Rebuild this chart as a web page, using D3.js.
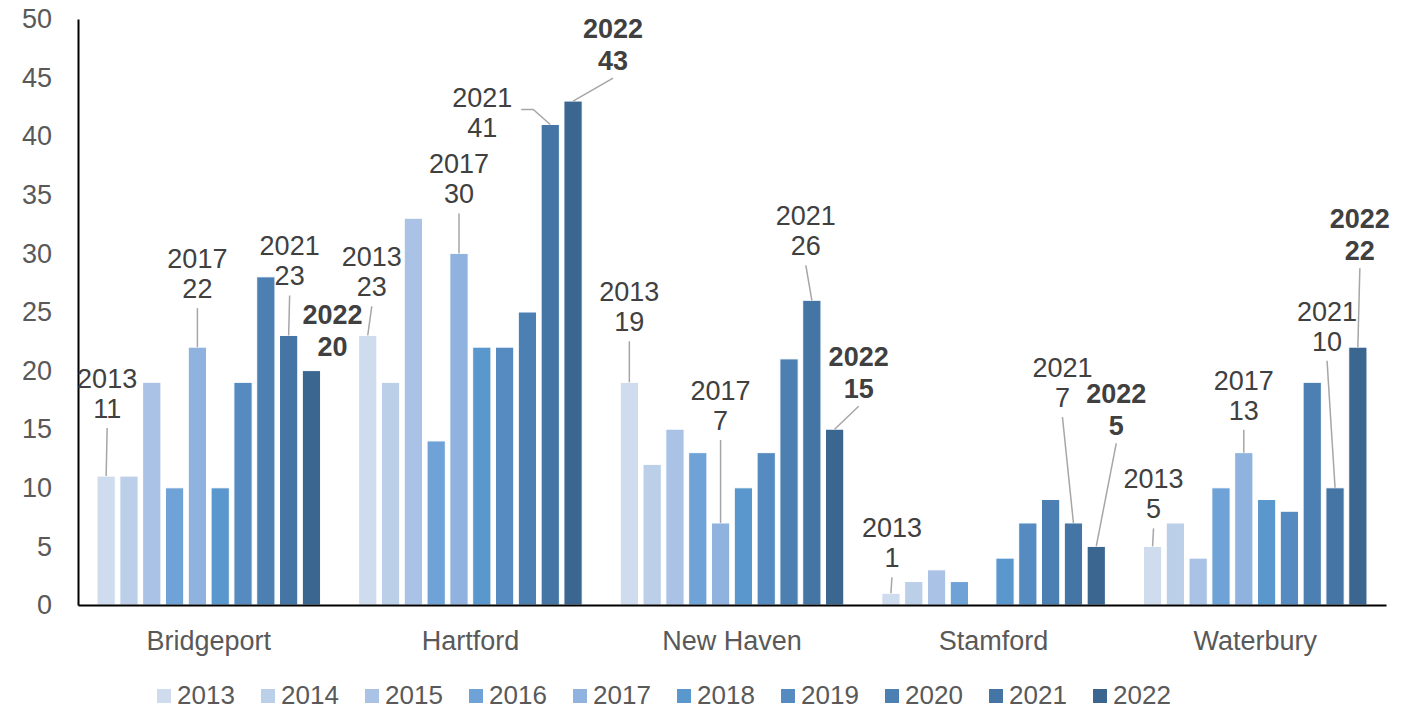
<!DOCTYPE html>
<head>
    <title>Cities by year</title>
    <script src='https://d3js.org/d3.v7.min.js'></script>
</head>
<style>
body {
  margin: 0;
  background: #fff;
  font-family: 'Liberation Sans', Arial, sans-serif;
}
text {
  pointer-events: none;
}
</style>
<body>
    <svg></svg>
</body>

<script>
    // Data
    var cities = ['Bridgeport', 'Hartford', 'New Haven', 'Stamford', 'Waterbury'];
    var years = ['2013', '2014', '2015', '2016', '2017', '2018', '2019', '2020', '2021', '2022'];
    var bridgeport = [11, 11, 19, 10, 22, 10, 19, 28, 23, 20];
    var hartford   = [23, 19, 33, 14, 30, 22, 22, 25, 41, 43];
    var newHaven   = [19, 12, 15, 13, 7, 10, 13, 21, 26, 15];
    var stamford   = [1, 2, 3, 2, 0, 4, 7, 9, 7, 5];
    var waterbury  = [5, 7, 4, 10, 13, 9, 8, 19, 10, 22];
    var yTicks = [0, 5, 10, 15, 20, 25, 30, 35, 40, 45, 50];

    var seriesByCity = [bridgeport, hartford, newHaven, stamford, waterbury];
    var vColors = ['#cfdcee', '#bccfe9', '#a9c2e5', '#6fa3d7', '#8fb3de',
                   '#5a97cd', '#558bc1', '#4c80b3', '#4475a4', '#3b6690'];

    // Which bars carry a callout, and where the callout sits relative to the bar top
    var callouts = [
        { c: 'Bridgeport', y: '2013', dx: 1, dy: -98 },
        { c: 'Bridgeport', y: '2017', dx: 0, dy: -89 },
        { c: 'Bridgeport', y: '2021', dx: 1, dy: -90 },
        { c: 'Bridgeport', y: '2022', dx: 21, dy: -57, noLine: true },
        { c: 'Hartford', y: '2013', dx: 4, dy: -79 },
        { c: 'Hartford', y: '2017', dx: 0, dy: -90 },
        { c: 'Hartford', y: '2021', dx: -68, dy: -27, elbow: true },
        { c: 'Hartford', y: '2022', dx: 40, dy: -73 },
        { c: 'New Haven', y: '2013', dx: 0, dy: -91 },
        { c: 'New Haven', y: '2017', dx: 0, dy: -133 },
        { c: 'New Haven', y: '2021', dx: -6, dy: -85 },
        { c: 'New Haven', y: '2022', dx: 24, dy: -73 },
        { c: 'Stamford', y: '2013', dx: 1, dy: -66 },
        { c: 'Stamford', y: '2021', dx: -11, dy: -156 },
        { c: 'Stamford', y: '2022', dx: 20, dy: -153 },
        { c: 'Waterbury', y: '2013', dx: 1, dy: -68 },
        { c: 'Waterbury', y: '2017', dx: 0, dy: -73 },
        { c: 'Waterbury', y: '2021', dx: -8, dy: -177 },
        { c: 'Waterbury', y: '2022', dx: 2, dy: -129 }
    ];

    var vWidth = 1420;
    var vHeight = 712;
    var margin = { left: 78, right: 34, top: 19, bottom: 107 };
    var fontSize = '27px';

    var svg = d3.select('svg')
        .attr('width', vWidth)
        .attr('height', vHeight);

    var x0 = d3.scaleBand()
        .domain(cities)
        .range([margin.left, vWidth - margin.right])
        .paddingInner(0.128)
        .paddingOuter(0.064);

    var x1 = d3.scaleBand()
        .domain(years)
        .range([0, x0.bandwidth()])
        .paddingInner(0.2)
        .paddingOuter(0.1);

    var y = d3.scaleLinear()
        .domain([0, 50])
        .range([vHeight - margin.bottom, margin.top]);

    var color = d3.scaleOrdinal().domain(years).range(vColors);

    function value(city, year) {
        return seriesByCity[cities.indexOf(city)][years.indexOf(year)];
    }

    // Bars
    var groups = svg.append('g').selectAll('g')
        .data(cities).enter().append('g')
        .attr('transform', function (c) { return 'translate(' + x0(c) + ',0)'; });

    groups.selectAll('rect')
        .data(function (c) { return years.map(function (yr) { return { c: c, y: yr, v: value(c, yr) }; }); })
        .enter().append('rect')
        .filter(function (d) { return d.v > 0; })
        .attr('x', function (d) { return x1(d.y); })
        .attr('y', function (d) { return y(d.v); })
        .attr('width', x1.bandwidth())
        .attr('height', function (d) { return y(0) - y(d.v); })
        .style('fill', function (d) { return color(d.y); })
        .style('stroke', '#fff')
        .style('stroke-width', 1);

    // Y axis: line + labels, no ticks
    var yAxis = svg.append('g')
        .attr('transform', 'translate(' + margin.left + ',0)')
        .call(d3.axisLeft(y).tickValues(yTicks).tickSize(0).tickPadding(26));
    yAxis.select('.domain').attr('stroke', '#000').attr('stroke-width', 2);
    yAxis.selectAll('text')
        .style('font-family', "'Liberation Sans', Arial, sans-serif")
        .style('font-size', fontSize)
        .style('fill', '#595959');

    // X axis
    var xAxis = svg.append('g')
        .attr('transform', 'translate(0,' + y(0) + ')')
        .call(d3.axisBottom(x0).tickSize(0).tickPadding(26).tickSizeOuter(0));
    xAxis.select('.domain').attr('stroke', '#000').attr('stroke-width', 2);
    xAxis.selectAll('text')
        .style('font-family', "'Liberation Sans', Arial, sans-serif")
        .style('font-size', fontSize)
        .style('fill', '#595959');

    // Callouts
    var ann = svg.append('g');
    callouts.forEach(function (a) {
        var v = value(a.c, a.y);
        var bx = x0(a.c) + x1(a.y) + x1.bandwidth() / 2;
        var by = y(v);
        var lx = bx + a.dx;
        var ly = by + a.dy;
        var bold = a.y === '2022';

        if (a.elbow) {
            ann.append('path')
                .attr('d', 'M' + (lx + 39) + ',' + (ly + 12) + 'H' + (lx + 51) + 'L' + bx + ',' + by)
                .attr('fill', 'none').attr('stroke', '#a6a6a6').attr('stroke-width', 1.5);
        } else if (!a.noLine) {
            ann.append('line')
                .attr('x1', lx).attr('y1', ly + 50)
                .attr('x2', bx).attr('y2', by)
                .attr('stroke', '#a6a6a6').attr('stroke-width', 1.5);
        }

        var t = ann.append('text')
            .attr('text-anchor', 'middle')
            .style('font-size', fontSize)
            .style('font-weight', bold ? 'bold' : 'normal')
            .style('fill', '#404040');
        t.append('tspan').attr('x', lx).attr('y', ly + 10).text(a.y);
        t.append('tspan').attr('x', lx).attr('y', ly + (bold ? 42 : 40)).text(v);
    });

    // Legend
    var legend = svg.append('g')
        .attr('transform', 'translate(157,689)');
    var items = legend.selectAll('g')
        .data(years).enter().append('g')
        .attr('transform', function (d, i) { return 'translate(' + i * 104 + ',0)'; });
    items.append('rect')
        .attr('width', 14).attr('height', 14)
        .style('fill', function (d) { return color(d); });
    items.append('text')
        .attr('x', 20).attr('y', 15)
        .style('font-size', '26px')
        .style('fill', '#595959')
        .text(function (d) { return d; });
</script>
